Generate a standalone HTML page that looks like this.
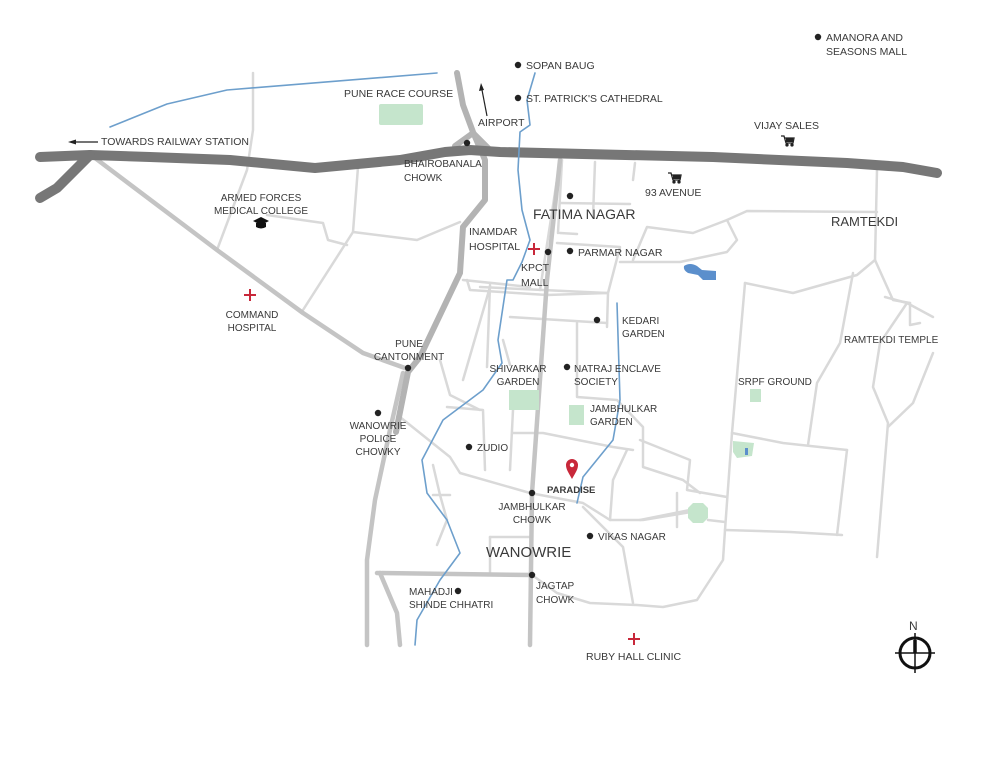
<!DOCTYPE html>
<html><head><meta charset="utf-8"><style>
html,body{margin:0;padding:0;background:#fff;}
svg{display:block;}
text{font-family:"Liberation Sans",sans-serif;fill:#3a3a3a;font-size:10.5px;}
.b{font-weight:bold;}
</style></head><body>
<svg width="1000" height="780" viewBox="0 0 1000 780" xmlns="http://www.w3.org/2000/svg">
<g fill="none" stroke-linejoin="round" stroke-linecap="round">
<!-- light roads -->
<g stroke="#d9d9d9" stroke-width="2.5">
<polyline points="253,73 253,130 247,170 217,250"/>
<polyline points="267,215 323,223 328,240 347,245"/>
<polyline points="358,167 353,232 303,310"/>
<polyline points="353,232 417,240 460,222"/>
<polyline points="463,280 530,287"/>
<polyline points="490,287 463,380"/>
<polyline points="595,162 593,217"/>
<polyline points="635,163 633,180"/>
<polyline points="562,160 558,233"/>
<polyline points="560,203 630,204"/>
<polyline points="560,233 577,234"/>
<polyline points="557,243 620,247 608,293 607,327"/>
<polyline points="620,262 680,262 727,252 737,240 727,220 693,233 647,227 633,260"/>
<polyline points="727,220 747,211 877,212"/>
<polyline points="877,170 875,260 893,300 910,303"/>
<polyline points="480,287 607,293"/>
<polyline points="510,317 607,323"/>
<polyline points="577,323 577,397 617,400 643,427 643,467 683,480 700,493"/>
<polyline points="745,283 793,293 857,275 875,260"/>
<polyline points="745,283 732,433 725,530 723,560 697,600 663,607 637,605 590,603 557,593 532,575"/>
<polyline points="732,433 783,443 847,450"/>
<polyline points="853,273 840,343 817,383 808,445"/>
<polyline points="847,450 837,535"/>
<polyline points="725,530 790,532 842,535"/>
<polyline points="885,297 907,303 933,317"/>
<polyline points="907,303 880,343 873,387 888,423 877,557"/>
<polyline points="888,427 913,403 933,353"/>
<polyline points="910,303 910,325 920,323"/>
<polyline points="640,440 690,460 687,490 727,497"/>
<polyline points="640,520 690,510"/>
<polyline points="708,520 725,522"/>
<polyline points="677,493 677,527"/>
<polyline points="400,417 450,457 460,473 530,493 583,503 610,520 643,520 703,510"/>
<polyline points="467,280 470,290 547,295 607,293"/>
<polyline points="490,285 487,367"/>
<polyline points="447,407 483,410 485,470"/>
<polyline points="513,410 510,470"/>
<polyline points="513,433 543,433 613,447 633,450"/>
<polyline points="627,450 613,480 610,520"/>
<polyline points="490,537 490,573"/>
<polyline points="490,537 530,537"/>
<polyline points="583,507 623,547 633,603"/>
<polyline points="433,465 440,495 447,520 437,545"/>
<polyline points="433,495 450,495"/>
<polyline points="440,360 450,395 480,410"/>
<polyline points="503,340 510,365"/>
<polyline points="540,290 560,160"/>
</g>
<!-- medium roads -->
<g stroke="#c4c4c4" stroke-width="4.5">
<polyline points="95,158 217,250 303,313 363,353 405,368"/>
<polyline points="560,160 547,280 532,493 530,645"/>
<polyline points="377,573 532,575"/>
<polyline points="403,373 390,430 375,500 367,560 367,645"/>
<polyline points="380,573 397,613 400,645"/>
</g>
<g stroke="#b3b3b3" stroke-width="6">
<polyline points="457,73 463,105 473,132 485,160 485,200 463,227 460,273 420,357 408,372 396,432"/>
<polyline points="473,133 455,146"/>
<polyline points="473,133 490,150"/>
</g>
<!-- main highway -->
<g stroke="#777" stroke-width="10">
<polyline points="40,157 90,155 150,157 230,160 315,168 400,160 445,152 470,150 500,152 713,157 847,163 903,167 937,173"/>
<polyline points="90,155 57,188 40,198"/>
</g>
<!-- rivers -->
<g stroke="#6d9fcc" stroke-width="1.6">
<polyline points="110,127 167,104 227,90 437,73"/>
<polyline points="535,73 527,100 530,125 520,132 518,170 522,210 530,240 522,262 513,280 507,280 498,340 502,363 483,390 443,420 422,460 427,493 447,520 460,553 440,580 417,620 415,645"/>
<polyline points="617,303 620,400 613,440 583,477 577,503"/>
</g>
</g>
<!-- greens -->
<g fill="#c5e5cc">
<rect x="379" y="104" width="44" height="21" rx="2"/>
<rect x="509" y="390" width="30" height="20"/>
<rect x="569" y="405" width="15" height="20"/>
<rect x="750" y="389" width="11" height="13"/>
<path d="M733,441 L754,443 L752,456 L737,458 L733,452Z"/>
<polygon points="693,503 703,503 708,508 708,518 703,523 693,523 688,518 688,508"/>
</g>
<rect x="745" y="448" width="3" height="7" fill="#5b8fcc"/>
<path d="M684,266 Q690,262 697,266 L702,270 L716,271 L716,280 L703,280 L698,275 L688,273 Q683,270 684,266Z" fill="#5b8fcc"/>
<!-- dots -->
<g fill="#222">
<circle cx="818" cy="37" r="3.2"/><circle cx="518" cy="65" r="3.2"/><circle cx="518" cy="98" r="3.2"/>
<circle cx="467" cy="143" r="3.2"/><circle cx="570" cy="196" r="3.2"/><circle cx="548" cy="252" r="3.2"/>
<circle cx="570" cy="251" r="3.2"/><circle cx="597" cy="320" r="3.2"/><circle cx="408" cy="368" r="3.2"/>
<circle cx="567" cy="367" r="3.2"/><circle cx="378" cy="413" r="3.2"/><circle cx="469" cy="447" r="3.2"/>
<circle cx="532" cy="493" r="3.2"/><circle cx="590" cy="536" r="3.2"/><circle cx="532" cy="575" r="3.2"/>
<circle cx="458" cy="591" r="3.2"/>
</g>
<!-- arrows -->
<g stroke="#222" stroke-width="1.2" fill="#222">
<line x1="75" y1="142" x2="98" y2="142"/><polygon points="68,142 76,139.5 76,144.5" stroke="none"/>
<line x1="487" y1="116" x2="482" y2="90"/><polygon points="481,83 479,91 484,90" stroke="none"/>
</g>
<!-- crosses -->
<g stroke="#c8283a" stroke-width="2">
<path d="M534,243v12M528,249h12"/><path d="M250,289v12M244,295h12"/><path d="M634,633v12M628,639h12"/>
</g>
<!-- carts -->
<g stroke="#222" stroke-width="1.3" fill="#222">
<path d="M781,136 h3 l2,7 h7 l1,-5 h-9" fill="none"/><rect x="786" y="138" width="7" height="4" stroke="none"/><circle cx="787" cy="145" r="1" /><circle cx="792" cy="145" r="1"/>
<path d="M668,173 h3 l2,7 h7 l1,-5 h-9" fill="none"/><rect x="673" y="175" width="7" height="4" stroke="none"/><circle cx="674" cy="182" r="1"/><circle cx="679" cy="182" r="1"/>
</g>
<!-- grad cap -->
<path d="M253,221 L261,217 L269,221 L261,225Z" fill="#111"/><path d="M256,223 v4 q5,3 10,0 v-4" fill="#111"/>
<!-- pin -->
<path d="M572,479 C568,472 566,469 566,465 A6,6 0 1 1 578,465 C578,469 576,472 572,479Z" fill="#c8283a"/><circle cx="572" cy="465" r="2.2" fill="#fff"/>
<!-- compass -->
<g stroke="#111" fill="none"><circle cx="915" cy="653" r="15" stroke-width="3"/><line x1="895" y1="653" x2="935" y2="653" stroke-width="1.5"/><line x1="915" y1="633" x2="915" y2="673" stroke-width="1.5"/><line x1="915" y1="640" x2="915" y2="653" stroke-width="3.5"/></g>
<text x="909" y="630" style="font-size:12px">N</text>
<!-- labels -->
<text x="826" y="41">AMANORA AND</text><text x="826" y="55">SEASONS MALL</text>
<text x="526" y="69">SOPAN BAUG</text>
<text x="526" y="102">ST. PATRICK'S CATHEDRAL</text>
<text x="344" y="97">PUNE RACE COURSE</text>
<text x="478" y="126">AIRPORT</text>
<text x="101" y="145">TOWARDS RAILWAY STATION</text>
<text x="404" y="167" style="font-size:10px">BHAIROBANALA</text><text x="404" y="181" style="font-size:10px">CHOWK</text>
<text x="754" y="129">VIJAY SALES</text>
<text x="645" y="196">93 AVENUE</text>
<text x="533" y="219" style="font-size:14px">FATIMA NAGAR</text>
<text x="831" y="226" style="font-size:13px">RAMTEKDI</text>
<text x="261" y="201" text-anchor="middle" style="font-size:10px">ARMED FORCES</text><text x="261" y="214" text-anchor="middle" style="font-size:10px">MEDICAL COLLEGE</text>
<text x="469" y="235">INAMDAR</text><text x="469" y="250">HOSPITAL</text>
<text x="521" y="271">KPCT</text><text x="521" y="286">MALL</text>
<text x="578" y="256">PARMAR NAGAR</text>
<text x="252" y="318" text-anchor="middle" style="font-size:10px">COMMAND</text><text x="252" y="331" text-anchor="middle" style="font-size:10px">HOSPITAL</text>
<text x="622" y="324" style="font-size:10px">KEDARI</text><text x="622" y="337" style="font-size:10px">GARDEN</text>
<text x="844" y="343" style="font-size:10px">RAMTEKDI TEMPLE</text>
<text x="409" y="347" text-anchor="middle" style="font-size:10px">PUNE</text><text x="409" y="360" text-anchor="middle" style="font-size:10px">CANTONMENT</text>
<text x="518" y="372" text-anchor="middle" style="font-size:10px">SHIVARKAR</text><text x="518" y="385" text-anchor="middle" style="font-size:10px">GARDEN</text>
<text x="574" y="372" style="font-size:10px">NATRAJ ENCLAVE</text><text x="574" y="385" style="font-size:10px">SOCIETY</text>
<text x="738" y="385" style="font-size:10px">SRPF GROUND</text>
<text x="590" y="412" style="font-size:10px">JAMBHULKAR</text><text x="590" y="425" style="font-size:10px">GARDEN</text>
<text x="378" y="429" text-anchor="middle" style="font-size:10px">WANOWRIE</text><text x="378" y="442" text-anchor="middle" style="font-size:10px">POLICE</text><text x="378" y="455" text-anchor="middle" style="font-size:10px">CHOWKY</text>
<text x="477" y="451" style="font-size:10px">ZUDIO</text>
<text x="547" y="493" class="b" style="font-size:9.5px">PARADISE</text>
<text x="532" y="510" text-anchor="middle" style="font-size:10px">JAMBHULKAR</text><text x="532" y="523" text-anchor="middle" style="font-size:10px">CHOWK</text>
<text x="598" y="540" style="font-size:10px">VIKAS NAGAR</text>
<text x="486" y="557" style="font-size:15px">WANOWRIE</text>
<text x="536" y="589" style="font-size:10px">JAGTAP</text><text x="536" y="603" style="font-size:10px">CHOWK</text>
<text x="409" y="595" style="font-size:10px">MAHADJI</text><text x="409" y="608" style="font-size:10px">SHINDE CHHATRI</text>
<text x="586" y="660">RUBY HALL CLINIC</text>
</svg>
</body></html>
